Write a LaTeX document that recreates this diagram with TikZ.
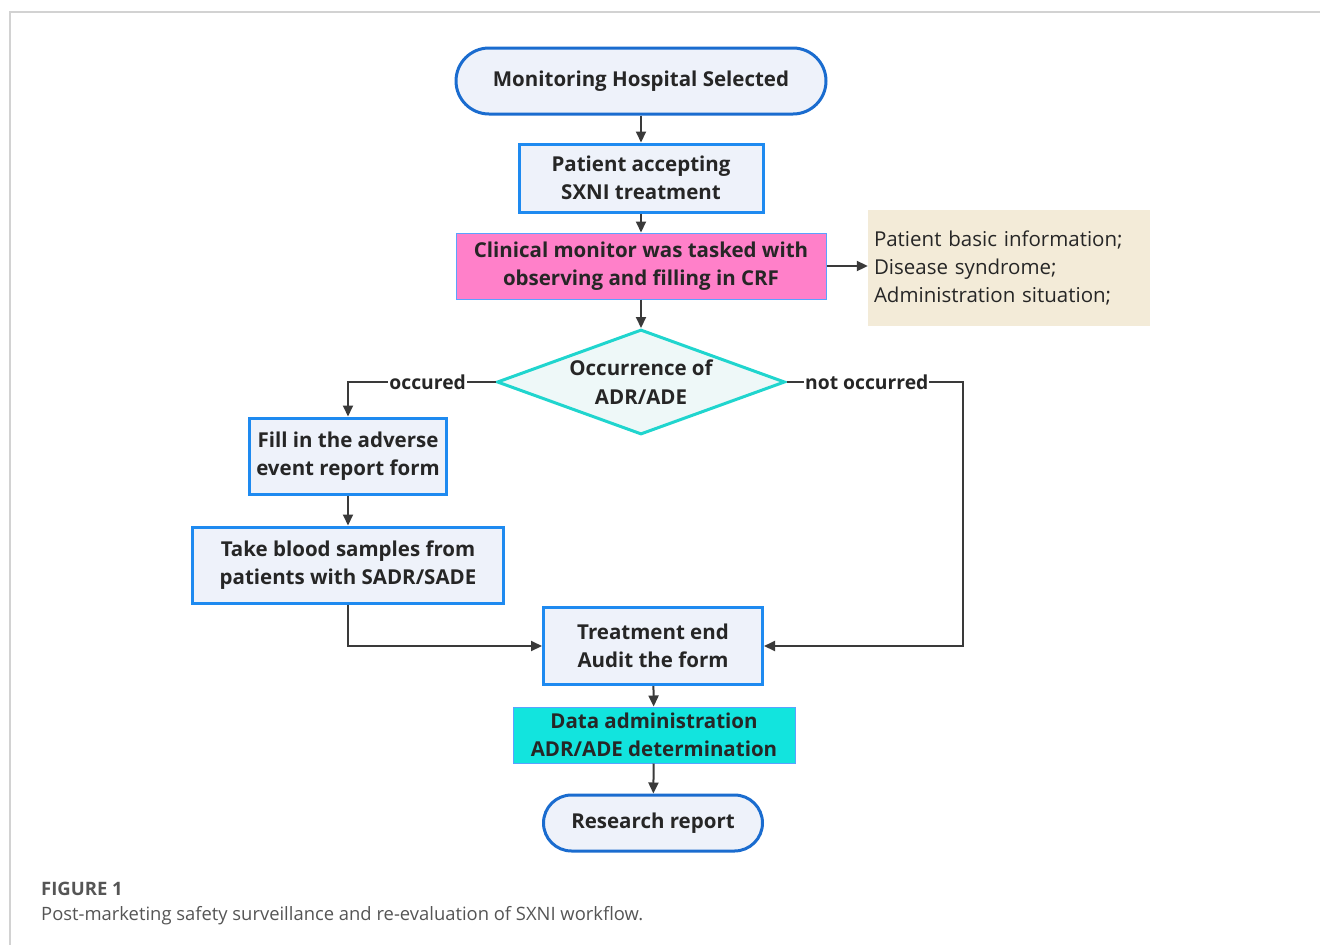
\documentclass[tikz,border=0pt]{standalone}
\usepackage{fontspec}
\setmainfont{Open Sans}
\usepackage{tikz}
\usetikzlibrary{positioning,arrows.meta,shapes.geometric}
\usepackage{xcolor}
\definecolor{ink}{HTML}{262626}
\definecolor{linegray}{HTML}{3A3A3A}
\definecolor{termblue}{HTML}{1A6CCF}
\definecolor{boxblue}{HTML}{1E8AF0}
\definecolor{boxfill}{HTML}{EEF2FA}
\definecolor{pinkfill}{HTML}{FF80C9}
\definecolor{thinblue}{HTML}{5AA2FF}
\definecolor{turq}{HTML}{20D5CE}
\definecolor{diafill}{HTML}{EEF8F8}
\definecolor{cyanfill}{HTML}{12E4DE}
\definecolor{tan}{HTML}{F3EBD8}
\definecolor{framegray}{HTML}{D2D2D2}
\definecolor{capgray}{HTML}{555555}

\begin{document}
\begin{tikzpicture}[x=1pt,y=-1pt,
  every node/.style={text=ink,font=\fontsize{20.5}{28.5}\selectfont\bfseries,align=center},
  term/.style={draw=termblue,line width=3pt,fill=boxfill,rounded corners=#1},
  box/.style={draw=boxblue,line width=3pt,fill=boxfill},
  flat/.style={draw=thinblue,line width=1pt},
  arr/.style={draw=linegray,line width=2pt,-{Triangle[length=11pt,width=10pt]}},
  lbl/.style={fill=white,inner sep=1pt,font=\fontsize{19.3}{24}\selectfont\bfseries}]
\useasboundingbox (0,0) rectangle (1320,945);
\draw[framegray,line width=1.5pt] (10,945) -- (10,12) -- (1320,12);

\node[term=33pt,minimum width=370pt,minimum height=66pt] (start) at (641,81) {Monitoring Hospital Selected};
\node[box,minimum width=244pt,minimum height=68pt] (pat) at (641,178) {Patient accepting\\SXNI treatment};
\node[flat,fill=pinkfill,minimum width=370pt,minimum height=66pt] (crf) at (641,266) {Clinical monitor was tasked with\\observing and filling in CRF};
\node[fill=tan,minimum width=282pt,minimum height=116pt,align=left,text width=270pt,
  font=\fontsize{20.5}{28}\selectfont] (info) at (1009,268) {Patient basic information;\\Disease syndrome;\\Administration situation;};
\node[shape=diamond,draw=turq,line width=3pt,fill=diafill,aspect=2.75,inner sep=0pt,
  minimum width=288pt,minimum height=105pt] (adr) at (641,382) {Occurrence of\\ADR/ADE};
\node[box,minimum width=197pt,minimum height=76pt] (form) at (348,456) {Fill in the adverse\\event report form};
\node[box,minimum width=311pt,minimum height=76pt] (blood) at (348,565) {Take blood samples from\\patients with SADR/SADE};
\node[box,minimum width=219pt,minimum height=77pt] (end) at (653,646) {Treatment end\\Audit the form};
\node[flat,fill=cyanfill,minimum width=282pt,minimum height=56pt] (data) at (654,735) {Data administration\\ADR/ADE determination};
\node[term=28pt,minimum width=219pt,minimum height=56pt] (rep) at (653,823) {Research report};
\coordinate (nr) at (963,382);

% main line
\draw[arr] (start) -- (pat);
\draw[arr] (pat) -- (crf);
\draw[arr] (crf) -- (adr);
\draw[arr] (crf.east) -- (info.west|-crf.east);
% branches
\draw[arr] (adr.west) -| node[lbl,pos=.23] {occured} (form.north);
\draw[arr] (adr.east) -- node[lbl,pos=.455] {not occurred} (nr) |- (end.east);
\draw[arr] (form) -- (blood);
\draw[arr] (blood.south) |- (end.west);
\draw[arr] (end) -- (data);
\draw[arr] (data) -- (rep);

\node[anchor=base west,inner sep=0pt,text=capgray,font=\fontsize{18.5}{20}\selectfont\bfseries] (fig) at (41,895) {FIGURE 1};
\node[anchor=base west,inner sep=0pt,text=capgray,font=\fontsize{18.4}{20}\selectfont] (cap) at (41,920) {Post-marketing safety surveillance and re-evaluation of SXNI workflow.};
\end{tikzpicture}
\end{document}
